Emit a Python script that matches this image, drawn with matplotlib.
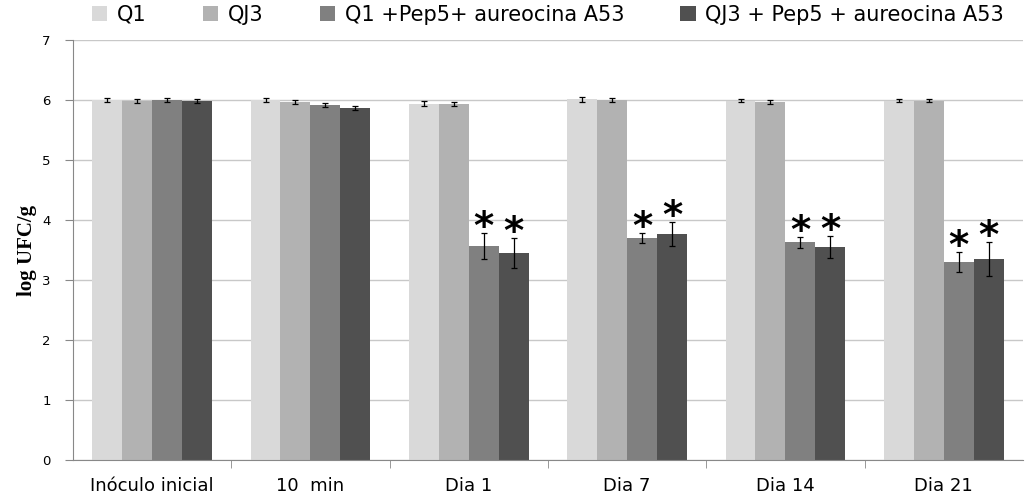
import matplotlib.pyplot as plt
import numpy as np

categories = ['Inóculo inicial', '10  min', 'Dia 1', 'Dia 7', 'Dia 14', 'Dia 21']
series = ['Q1', 'QJ3', 'Q1 +Pep5+ aureocina A53', 'QJ3 + Pep5 + aureocina A53']
colors = ['#d9d9d9', '#b2b2b2', '#808080', '#505050']

q1 = [6.00, 6.00, 5.94, 6.01, 5.99, 5.99]
qj3 = [5.98, 5.97, 5.93, 6.00, 5.97, 5.99]
q1_pep = [6.00, 5.92, 3.57, 3.70, 3.63, 3.30]
qj3_pep = [5.98, 5.87, 3.45, 3.77, 3.55, 3.35]

q1_err = [0.03, 0.03, 0.04, 0.04, 0.03, 0.03]
qj3_err = [0.03, 0.03, 0.03, 0.03, 0.03, 0.02]
q1_pep_err = [0.03, 0.03, 0.22, 0.09, 0.09, 0.17]
qj3_pep_err = [0.03, 0.03, 0.25, 0.20, 0.19, 0.28]

# groups marked as significant (series index, category index)
signif = [(2, 2), (3, 2), (2, 3), (3, 3), (2, 4), (3, 4), (2, 5), (3, 5)]

values = [q1, qj3, q1_pep, qj3_pep]
errors = [q1_err, qj3_err, q1_pep_err, qj3_pep_err]

fig = plt.figure(figsize=(10.27, 4.97), dpi=100)
ax = fig.add_axes([0.071, 0.0744, 0.925, 0.845])

pos = np.arange(len(categories))
width = 0.189
for i, (vals, errs) in enumerate(zip(values, errors)):
    x = pos + (i - 1.5) * width
    ax.bar(x, vals, width, color=colors[i], label=series[i], zorder=2)
    ax.errorbar(x, vals, yerr=errs, fmt='none', ecolor='black', elinewidth=0.9,
                capsize=2.5, capthick=0.9, zorder=3)

for s, c in signif:
    x = pos[c] + (s - 1.5) * width
    y = values[s][c] + errors[s][c]
    ax.text(x, y + 0.08, '*', ha='center', va='center', fontsize=28,
            fontweight='bold', family='DejaVu Sans', zorder=4)

ax.set_xlim(-0.5, 5.5)
ax.set_ylim(0, 7)
ax.set_yticks(range(0, 8))
ax.yaxis.grid(True, color='#c8c8c8', linewidth=1, zorder=0)
ax.set_axisbelow(True)

ax.set_xticks(pos)
ax.set_xticklabels(categories, family='DejaVu Sans', fontsize=13)
ax.set_xticks(np.arange(0.5, 5.5, 1), minor=True)
ax.tick_params(axis='x', which='major', length=0, pad=12)
ax.tick_params(axis='x', which='minor', length=6, color='#888888')
ax.tick_params(axis='y', length=6, color='#888888', labelsize=9.5, pad=10)

for sp in ['top', 'right']:
    ax.spines[sp].set_visible(False)
ax.spines['left'].set_color('#888888')
ax.spines['bottom'].set_color('#888888')

ax.set_ylabel('log UFC/g', family='Liberation Serif', fontweight='bold', fontsize=15)

ax.legend(loc='center', bbox_to_anchor=(0.5, 1.06), ncol=4, frameon=False,
          prop={'family': 'DejaVu Sans', 'size': 15}, handlelength=0.75, handleheight=0.75,
          columnspacing=2.7, handletextpad=0.45)

plt.savefig('out.png', dpi=100)
